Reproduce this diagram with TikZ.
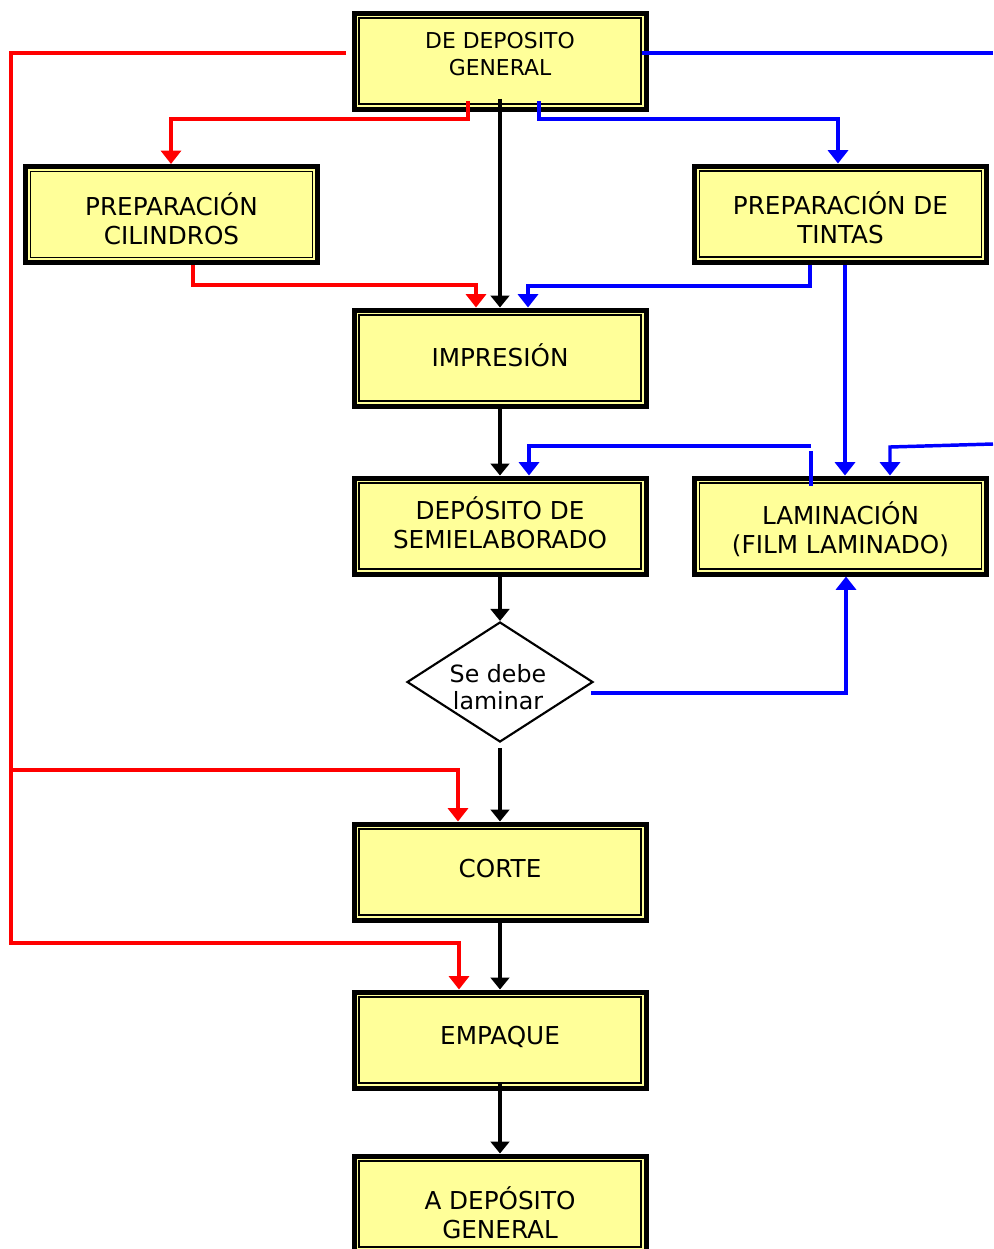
\documentclass[tikz,border=0pt]{standalone}
\usepackage{fontspec}
\setmainfont{DejaVu Sans}
\usetikzlibrary{arrows.meta,shapes.geometric}
\definecolor{boxyellow}{RGB}{255,255,153}
\definecolor{lred}{RGB}{255,0,0}
\definecolor{lblue}{RGB}{0,0,255}
\begin{document}
\begin{tikzpicture}[x=0.75pt,y=-0.75pt,
  procbox/.style={draw=black, line width=3.75pt, fill=boxyellow,
    minimum width=219pt, minimum height=72pt, inner sep=0pt,
    path picture={\draw[line width=0.9pt]
      ([shift={(3.8pt,-3.8pt)}]path picture bounding box.north west) rectangle
      ([shift={(-3.8pt,3.8pt)}]path picture bounding box.south east);}},
  txt/.style={align=center, inner sep=0pt, font=\fontsize{18.5}{21.75}\selectfont},
  txtdia/.style={align=center, inner sep=0pt, font=\fontsize{17.8}{20.5}\selectfont},
  txtsmall/.style={align=center, inner sep=0pt, font=\fontsize{16.4}{20.25}\selectfont},
  decision/.style={diamond, draw=black, line width=1.6pt, fill=white,
    minimum width=139.5pt, minimum height=90pt, inner sep=0pt, aspect=1.55},
  blk/.style={draw=black, line width=2.6pt, -{Triangle[width=14pt,length=9pt]}},
  rl/.style={draw=lred, line width=2.3pt, -{Triangle[width=15pt,length=10pt]}},
  bl/.style={draw=lblue, line width=2.6pt, -{Triangle[width=15pt,length=10pt]}},
  blplain/.style={draw=lblue, line width=2.6pt}
]
\useasboundingbox (0,0) rectangle (993,1249);

% boxes
\node[procbox] (top) at (500,61) {};
\node[procbox] (cil) at (171.5,214.5) {};
\node[procbox] (tin) at (840.5,214) {};
\node[procbox] (imp) at (500,358) {};
\node[procbox] (dep) at (500,526) {};
\node[procbox] (lam) at (840.5,526) {};
\node[procbox] (corte) at (500,872) {};
\node[procbox] (emp) at (500,1040) {};
\node[procbox] (adep) at (500,1204) {};
\node[decision] (dia) at (500,682) {};

% texts
\node[txtsmall] (ttop) at (500,54) {DE DEPOSITO\\GENERAL};
\node[txt] (tcil) at (171.5,218.5) {PREPARACIÓN\\CILINDROS};
\node[txt] (ttin) at (840.5,217.5) {PREPARACIÓN DE\\TINTAS};
\node[txt] (timp) at (500,355) {IMPRESIÓN};
\node[txt] (tdep) at (500,522.5) {DEPÓSITO DE\\SEMIELABORADO};
\node[txt] (tlam) at (840.5,529.5) {LAMINACIÓN\\(FILM LAMINADO)};
\node[txtdia] (tdia) at (498,687) {Se debe\\laminar};
\node[txt] (tcorte) at (500,869) {CORTE};
\node[txt] (temp) at (500,1037) {EMPAQUE};
\node[txt] (tadep) at (500,1212.5) {A DEPÓSITO\\GENERAL};

% black flow
\draw[blk] ([yshift=9.4pt]top.south) -- (imp.north);
\draw[blk] (imp.south) -- (dep.north);
\draw[blk] (dep.south) -- (dia.north);
\draw[blk] ([yshift=-3.8pt]dia.south) -- (corte.north);
\draw[blk] (corte.south) -- (emp.north);
\draw[blk] ([yshift=5.6pt]emp.south) -- (adep.north);

% red flow
\coordinate (r1s) at (346,53);
\draw[rl] (r1s) -| (11,943) -| (emp.north -| 459,0);
\coordinate (r1b) at (11,770);
\draw[rl] (r1b) -| (corte.north -| 458,0);
\coordinate (r2s) at (468,101);
\draw[rl] (r2s) -- (468,119) -| (cil.north -| 171,0);
\draw[rl] (cil.south -| 193,0) -- (193,285) -| (imp.north -| 476,0);

% blue flow
\coordinate (b1s) at (642,53);
\coordinate (b1e) at (993,53);
\draw[blplain] (b1s) -- (b1e);
\coordinate (b2s) at (539,101);
\draw[bl] (b2s) -- (539,119) -| (tin.north -| 838,0);
\draw[bl] (tin.south -| 810,0) -- (810,286) -| (imp.north -| 528,0);
\draw[bl] (tin.south -| 845,0) -- (lam.north -| 845,0);
\coordinate (b5s) at (811,446);
\draw[bl] (b5s) -| (dep.north -| 529,0);
\coordinate (b5t) at (811,451);
\draw[blplain] (b5t) -- (811,486);
\coordinate (b6s) at (993,444);
\draw[bl] (b6s) -- (890,447) -- (lam.north -| 890,0);
\coordinate (b7s) at (591,693);
\draw[bl] (b7s) -| (lam.south -| 846,0);
\end{tikzpicture}
\end{document}
